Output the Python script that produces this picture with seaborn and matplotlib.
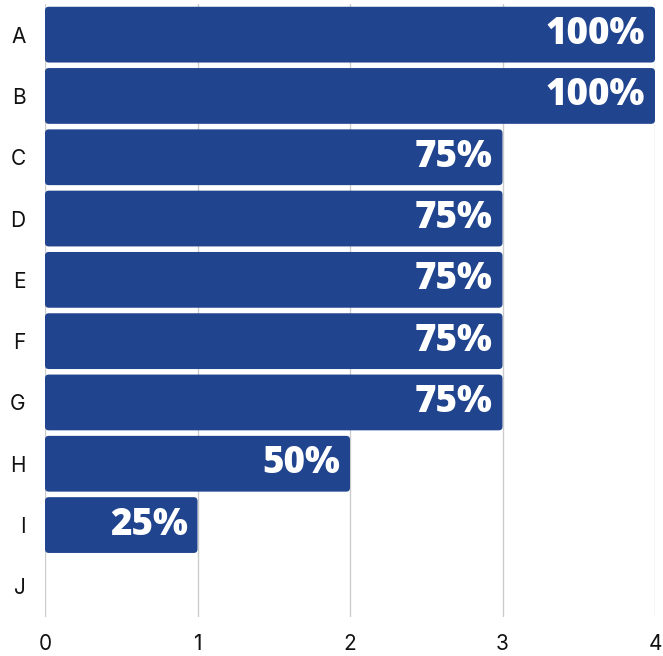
import numpy as np
import pandas as pd
import matplotlib
matplotlib.use("Agg")
import matplotlib.pyplot as plt
import seaborn as sns
from matplotlib.patches import FancyBboxPatch

# data
categories = ["A", "B", "C", "D", "E", "F", "G", "H", "I", "J"]
values = [4, 4, 3, 3, 3, 3, 3, 2, 1, 0]
labels = ["100%", "100%", "75%", "75%", "75%", "75%", "75%", "50%", "25%", ""]

df = pd.DataFrame({"cat": categories, "val": values})

sns.set_style("white")
plt.rcParams["font.family"] = ["Inter", "DejaVu Sans"]

fig = plt.figure(figsize=(6.63, 6.56), dpi=100)
ax = fig.add_axes([45 / 663, 39 / 656, 610 / 663, 613 / 656])

bar_color = "#21448f"
sns.barplot(data=df, x="val", y="cat", color=bar_color, saturation=1,
            width=0.91, ax=ax, zorder=2)

# swap plain bars for slightly rounded ones
for p in list(ax.patches):
    x0, y0 = p.get_x(), p.get_y()
    w, h = p.get_width(), p.get_height()
    if w <= 0:
        p.remove()
        continue
    fb = FancyBboxPatch((x0, y0), w, h,
                        boxstyle="round,pad=0,rounding_size=0.025",
                        mutation_aspect=152.5 / 61.3,
                        facecolor=bar_color, edgecolor="none", zorder=2)
    p.remove()
    ax.add_patch(fb)

for i, (v, lab) in enumerate(zip(values, labels)):
    if lab:
        ax.annotate(lab, xy=(v, i), xytext=(-7, 0), textcoords="offset points",
                    ha="right", va="center", color="white", fontsize=26.5,
                    fontweight="heavy", family=["Open Sans", "DejaVu Sans"])

ax.set_xlim(0, 4)
ax.set_ylim(9.5, -0.5)
ax.set_xticks([0, 1, 2, 3, 4])
ax.grid(axis="x", color="#cccccc", linewidth=1, zorder=0)
ax.set_axisbelow(True)
for s in ax.spines.values():
    s.set_visible(False)
ax.tick_params(axis="both", length=0, labelsize=15, colors="#111111")
ax.tick_params(axis="y", pad=14)
ax.tick_params(axis="x", pad=12)
ax.set_xlabel("")
ax.set_ylabel("")

fig.savefig("out.png", dpi=100)
